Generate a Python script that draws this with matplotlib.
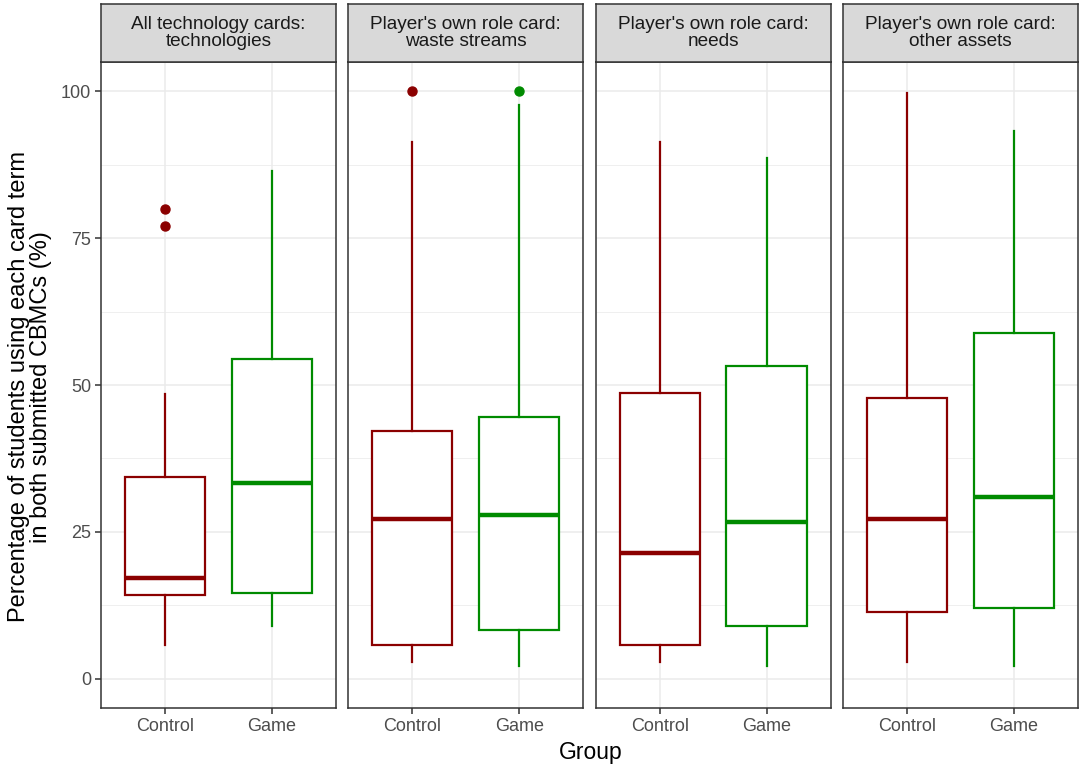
import matplotlib
matplotlib.use("Agg")
import matplotlib.pyplot as plt
from matplotlib.ticker import MultipleLocator

plt.rcParams['font.family'] = ['Liberation Sans', 'DejaVu Sans']

# Data: one entry per facet, (Control, Game)
facets = [
    "All technology cards:\ntechnologies",
    "Player's own role card:\nwaste streams",
    "Player's own role card:\nneeds",
    "Player's own role card:\nother assets",
]
groups = ["Control", "Game"]
whislo = [[5.8, 9.0], [2.9, 2.2], [2.9, 2.2], [2.9, 2.2]]
q1 = [[14.3, 14.5], [5.7, 8.3], [5.7, 8.9], [11.4, 12.1]]
med = [[17.1, 33.3], [27.2, 27.8], [21.4, 26.7], [27.2, 31.0]]
q3 = [[34.3, 54.4], [42.2, 44.5], [48.6, 53.3], [47.8, 58.8]]
whishi = [[48.5, 86.4], [91.3, 97.7], [91.3, 88.7], [99.8, 93.2]]
fliers = [[[80.0, 77.0], []], [[100.0], [100.0]], [[], []], [[], []]]
colors = ["#8B0000", "#008B00"]

fig = plt.figure(figsize=(10.84, 7.69), dpi=100)
W, H = 1084, 769
left0, pw, gap = 101, 235, 12.3
top, bottom, strip_h = 62, 708, 58

for i, title in enumerate(facets):
    x0 = left0 + i * (pw + gap)
    ax = fig.add_axes([x0 / W, 1 - bottom / H, pw / W, (bottom - top) / H])
    for j in range(2):
        c = colors[j]
        st = dict(whislo=whislo[i][j], q1=q1[i][j], med=med[i][j],
                  q3=q3[i][j], whishi=whishi[i][j], fliers=fliers[i][j])
        ax.bxp([st], positions=[j + 1], widths=0.75, showcaps=False,
               patch_artist=True,
               boxprops=dict(facecolor="white", edgecolor=c, linewidth=1.6),
               whiskerprops=dict(color=c, linewidth=1.6),
               medianprops=dict(color=c, linewidth=3.2),
               flierprops=dict(marker="o", markerfacecolor=c, markeredgecolor=c,
                               markersize=6.5),
               zorder=3)
    ax.set_xlim(0.4, 2.6)
    ax.set_ylim(-5, 105)
    ax.yaxis.set_major_locator(MultipleLocator(25))
    ax.yaxis.set_minor_locator(MultipleLocator(12.5))
    ax.set_xticks([1, 2])
    ax.set_xticklabels(groups)
    ax.grid(which="major", color="#EBEBEB", linewidth=1.1, zorder=0)
    ax.grid(which="minor", axis="y", color="#EBEBEB", linewidth=0.55, zorder=0)
    ax.set_axisbelow(True)
    for s in ax.spines.values():
        s.set_color("#333333")
        s.set_linewidth(1.1)
    ax.tick_params(which="major", length=4, width=1.1, color="#333333",
                   labelsize=13, labelcolor="#4D4D4D", pad=3)
    ax.tick_params(which="minor", length=0)
    if i > 0:
        ax.tick_params(axis="y", labelleft=False, length=0)
    # strip
    sax = fig.add_axes([x0 / W, 1 - top / H, pw / W, strip_h / H])
    sax.set_facecolor("#D9D9D9")
    sax.set_xticks([])
    sax.set_yticks([])
    for s in sax.spines.values():
        s.set_color("#333333")
        s.set_linewidth(1.1)
    sax.text(0.5, 0.5, title, ha="center", va="center", fontsize=13.7,
             color="#1A1A1A", linespacing=0.95, transform=sax.transAxes)

fig.text(30 / W, 1 - 387 / H, "Percentage of students using each card term\nin both submitted CBMCs (%)",
         rotation=90, ha="center", va="center", fontsize=17, linespacing=0.95)
fig.text(591 / W, 1 - 752 / H, "Group", ha="center", va="center", fontsize=16.5)

fig.savefig("out.png", dpi=100)
